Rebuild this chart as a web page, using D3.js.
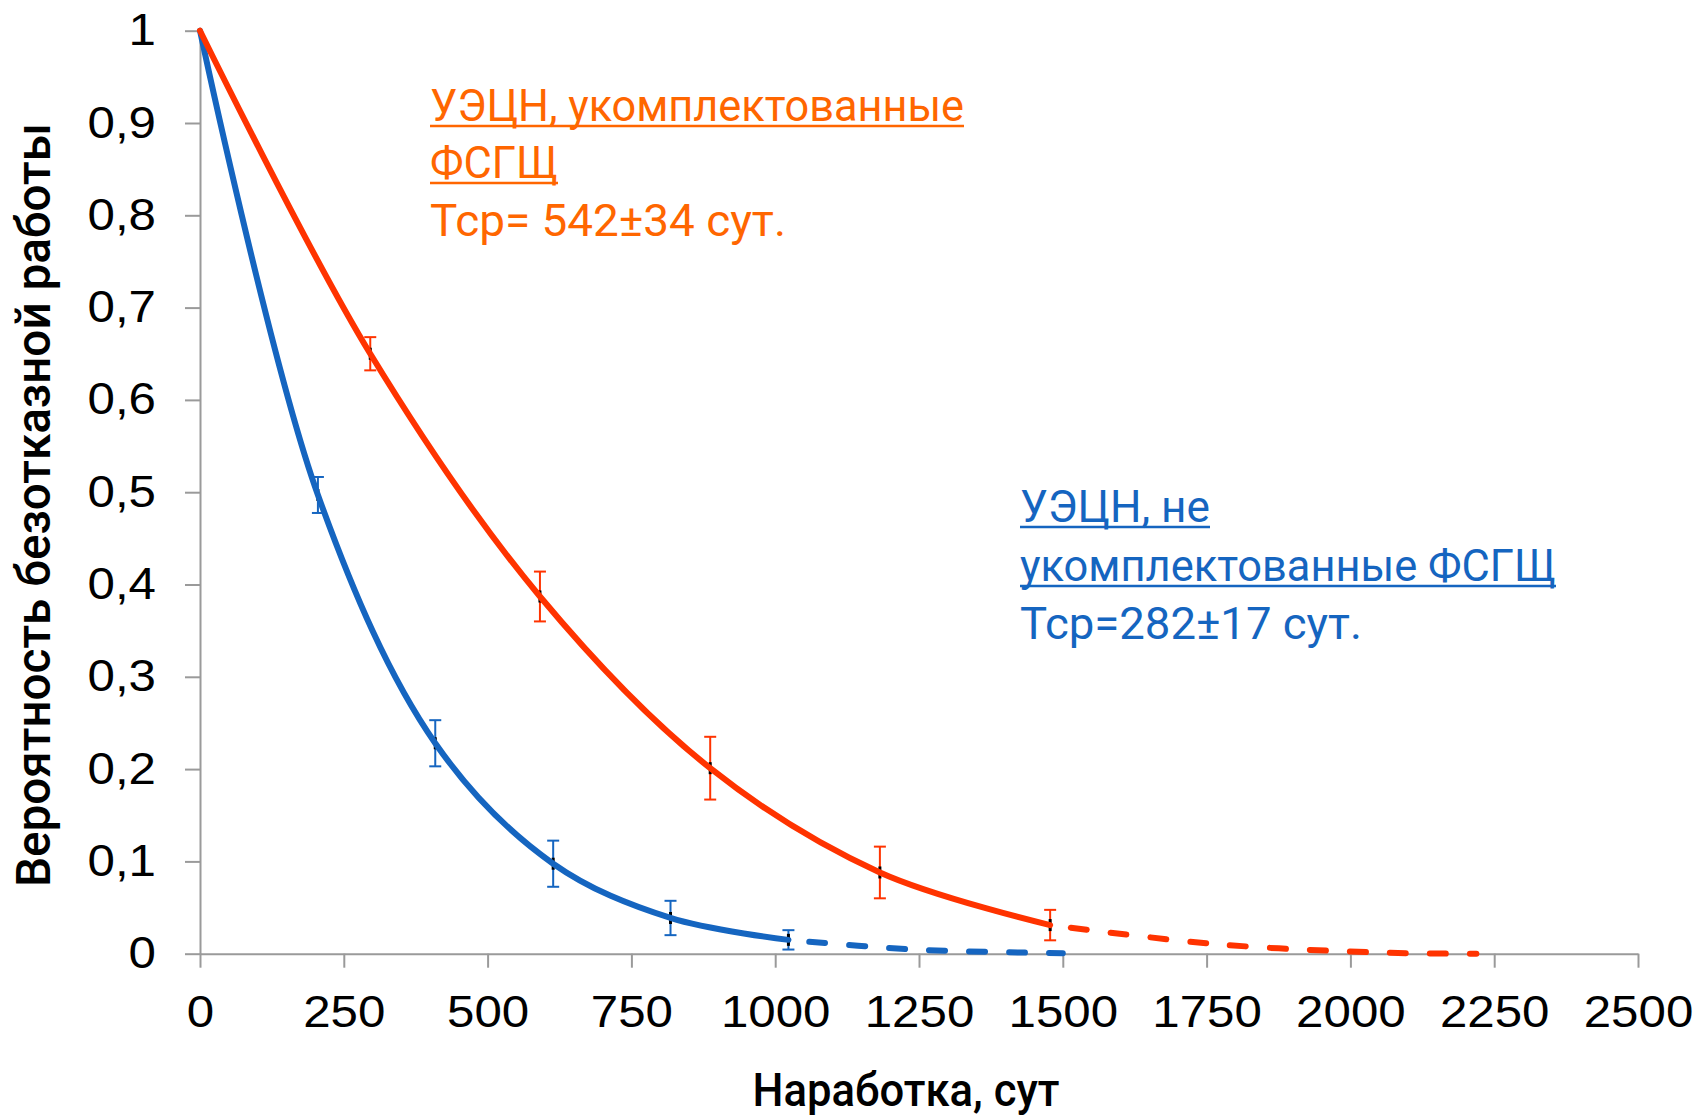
<!DOCTYPE html>
<html><head><meta charset="utf-8">
<script src="https://cdn.jsdelivr.net/npm/d3@7"></script>
<style>body{margin:0;background:#fff}</style>
</head><body>
<svg id="chart" width="1699" height="1117"></svg>
<script>
// ---- data ----
const xTicks = [0, 250, 500, 750, 1000, 1250, 1500, 1750, 2000, 2250, 2500];
const xTickLabels = ["0", "250", "500", "750", "1000", "1250", "1500", "1750", "2000", "2250", "2500"];
const yTicks = [0, 0.1, 0.2, 0.3, 0.4, 0.5, 0.6, 0.7, 0.8, 0.9, 1];
const yTickLabels = ["0", "0,1", "0,2", "0,3", "0,4", "0,5", "0,6", "0,7", "0,8", "0,9", "1"];

const redX = [0, 296, 591, 887, 1182, 1478];
const redY = [1, 0.650, 0.387, 0.201, 0.088, 0.031];
const redErr = [0, 0.018, 0.027, 0.034, 0.028, 0.0165];
const redTailX = [1478, 1773, 2069, 2219];
const redTailY = [0.031, 0.010, 0.001, 0];

const blueX = [0, 205, 409, 614, 818, 1023];
const blueY = [1, 0.497, 0.228, 0.0975, 0.0387, 0.015];
const blueErr = [0, 0.0195, 0.025, 0.025, 0.0186, 0.0105];
const blueTailX = [1023, 1227, 1432, 1500];
const blueTailY = [0.015, 0.005, 0.0012, 0.0005];

const redLabel = ["УЭЦН, укомплектованные", "ФСГЩ", "Тср= 542±34 сут."];
const blueLabel = ["УЭЦН, не", "укомплектованные ФСГЩ", "Тср=282±17 сут."];
const xTitle = "Наработка, сут";
const yTitle = "Вероятность безотказной работы";

// ---- drawing ----
const svg = d3.select("#chart");
svg.append("rect").attr("width", 1699).attr("height", 1117).attr("fill", "#fff");

const x = d3.scaleLinear().domain([0, 2500]).range([200, 1638]);
const y = d3.scaleLinear().domain([0, 1]).range([953.7, 30.7]);

const RED = "#FF3300", BLUE = "#1565C0", AXIS = "#9a9a9a";
const TXT_STRETCH = 1.12;

// axes
const gx = svg.append("g").attr("transform", `translate(0,${y(0)})`)
  .call(d3.axisBottom(x).tickValues(xTicks).tickFormat((d, i) => xTickLabels[i])
    .tickSize(14).tickPadding(28).tickSizeOuter(0));
const gy = svg.append("g").attr("transform", `translate(${x(0)},0)`)
  .call(d3.axisLeft(y).tickValues(yTicks).tickFormat((d, i) => yTickLabels[i])
    .tickSize(15).tickPadding(29).tickSizeOuter(0));
[gx, gy].forEach(g => {
  g.select(".domain").attr("stroke", AXIS).attr("stroke-width", 2);
  g.selectAll(".tick line").attr("stroke", AXIS).attr("stroke-width", 2);
  g.selectAll(".tick text").attr("fill", "#000")
    .style("font-family", "'Liberation Sans', Arial, sans-serif").style("font-size", "44px");
});
gx.selectAll(".tick text").attr("transform", `scale(${TXT_STRETCH},1)`);
gy.selectAll(".tick text").attr("x", -44 / TXT_STRETCH).attr("transform", `scale(${TXT_STRETCH},1)`);

// axis titles
svg.append("text").attr("x", 906).attr("y", 1106).attr("text-anchor", "middle")
  .attr("textLength", 307).attr("lengthAdjust", "spacingAndGlyphs")
  .style("font-family", "Roboto, sans-serif").style("font-weight", 500).style("font-size", "46px")
  .attr("fill", "#000").text(xTitle);
svg.append("text").attr("transform", "translate(50,505) rotate(-90)").attr("text-anchor", "middle")
  .attr("textLength", 764).attr("lengthAdjust", "spacingAndGlyphs")
  .style("font-family", "Roboto, sans-serif").style("font-weight", 500).style("font-size", "48px")
  .attr("fill", "#000").text(yTitle);

// error bars + markers
function errorBars(xs, ys, es, color) {
  const g = svg.append("g");
  xs.forEach((xv, i) => {
    if (!es[i]) return;
    const cx = x(xv), y1 = y(ys[i] + es[i]), y2 = y(ys[i] - es[i]);
    g.append("line").attr("x1", cx).attr("x2", cx).attr("y1", y1).attr("y2", y2)
      .attr("stroke", color).attr("stroke-width", 2);
    [y1, y2].forEach(yy => g.append("line").attr("x1", cx - 6).attr("x2", cx + 6)
      .attr("y1", yy).attr("y2", yy).attr("stroke", color).attr("stroke-width", 2));
    g.append("rect").attr("x", cx - 1.5).attr("y", y(ys[i]) - 6).attr("width", 3).attr("height", 12)
      .attr("fill", "#000");
  });
}
errorBars(redX, redY, redErr, RED);
errorBars(blueX, blueY, blueErr, BLUE);

// lines
const line = d3.line().x(d => x(d[0])).y(d => y(d[1])).curve(d3.curveCatmullRom.alpha(0.5));
function drawLine(xs, ys, color, dashed) {
  const p = svg.append("path").datum(xs.map((v, i) => [v, ys[i]]))
    .attr("d", line).attr("fill", "none").attr("stroke", color).attr("stroke-width", 6)
    .attr("stroke-linecap", "round").attr("stroke-linejoin", "round");
  if (dashed) p.attr("stroke-dasharray", "16 24").attr("stroke-dashoffset", 19);
}
drawLine(blueTailX, blueTailY, BLUE, true);
drawLine(redTailX, redTailY, RED, true);
drawLine(blueX, blueY, BLUE, false);
drawLine(redX, redY, RED, false);

// annotations
function block(lines, x0, baselines, widths, color, underlined) {
  lines.forEach((t, i) => {
    svg.append("text").attr("x", x0).attr("y", baselines[i])
      .attr("textLength", widths[i]).attr("lengthAdjust", "spacingAndGlyphs")
      .style("font-family", "Roboto, sans-serif").style("font-size", "45px")
      .attr("fill", color).text(t);
    if (underlined[i]) {
      svg.append("line").attr("x1", x0).attr("x2", x0 + widths[i])
        .attr("y1", baselines[i] + 5).attr("y2", baselines[i] + 5)
        .attr("stroke", color).attr("stroke-width", 2.5);
    }
  });
}
block(redLabel, 430, [121, 178, 236], [534, 128, 356], "#FF6600", [true, true, false]);
block(blueLabel, 1020, [522, 581, 639], [190, 536, 342], "#1565C0", [true, true, false]);
</script>
</body></html>
